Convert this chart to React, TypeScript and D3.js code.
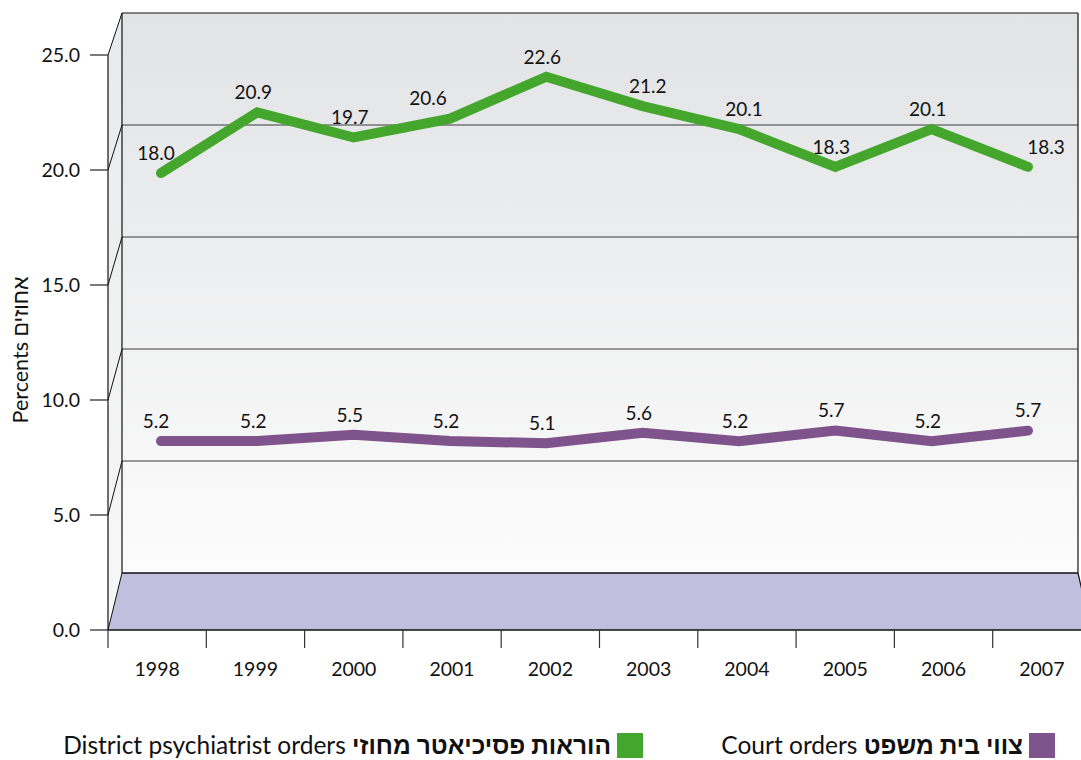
import React from "react";
import * as d3 from "d3";

const years = ["1998", "1999", "2000", "2001", "2002", "2003", "2004", "2005", "2006", "2007"];
const courtOrders = [5.2, 5.2, 5.5, 5.2, 5.1, 5.6, 5.2, 5.7, 5.2, 5.7];
const districtOrders = [18.0, 20.9, 19.7, 20.6, 22.6, 21.2, 20.1, 18.3, 20.1, 18.3];
const yTicks = [0, 5, 10, 15, 20, 25];
const seriesEnglish = ["Court orders", "District psychiatrist orders"];
const seriesHebrew = ["צווי בית משפט", "הוראות פסיכיאטר מחוזי"];
const seriesColors = ["#7f548c", "#44a62c"];
const yTitleEnglish = "Percents";
const yTitleHebrew = "אחוזים";

const FONT = "Lato, 'Liberation Sans', 'DejaVu Sans', sans-serif";

export default function App() {
  const W = 1081, H = 760;
  const frontLeft = 108, frontRight = 1091, frontBottom = 630, frontTop = 55;
  const backLeft = 122, backRight = 1078, backBottom = 573, backTop = 13;

  const yFront = d3.scaleLinear().domain([0, 25]).range([frontBottom, frontTop]);
  const yBack = d3.scaleLinear().domain([0, 25]).range([backBottom, backTop]);
  const yMid = d3.scaleLinear().domain([0, 25]).range([550, 550 - 25 * 20.94]);
  const xFront = d3.scaleBand().domain(years).range([frontLeft, frontRight]);
  const xMid = d3.scalePoint().domain(years).range([161, 1028]);

  const line = d3.line<number>()
    .x((_, i) => xMid(years[i])!)
    .y((d) => yMid(d));

  const series = [courtOrders, districtOrders];

  const labelDx = (vals: number[], i: number) => {
    const sL = i > 0 ? vals[i] - vals[i - 1] : null;
    const sR = i < vals.length - 1 ? vals[i + 1] - vals[i] : null;
    if (sL === null) return -5;
    if (sR === null) return sL < -0.5 ? 18 : 0;
    if (sL > 0.3 && sR > 0.3) return -22;
    if (sL < -0.3 && sR < -0.3) return 5;
    return -4;
  };

  return (
    <svg width={W} height={H} style={{ position: "absolute", left: 0, top: 0, display: "block", background: "#fff" }}
      fontFamily={FONT}>
      <defs>
        <linearGradient id="wallGrad" x1="0" y1="0" x2="0" y2="1">
          <stop offset="0" stopColor="#e2e3e5" />
          <stop offset="1" stopColor="#fcfcfc" />
        </linearGradient>
        <linearGradient id="sideGrad" x1="0" y1="0" x2="0" y2="1">
          <stop offset="0" stopColor="#e8e9ea" />
          <stop offset="1" stopColor="#f8f8f8" />
        </linearGradient>
      </defs>

      <rect x={backLeft} y={backTop} width={backRight - backLeft} height={backBottom - backTop} fill="url(#wallGrad)" />
      <polygon points={`${frontLeft},${frontBottom} ${frontLeft},${frontTop} ${backLeft},${backTop} ${backLeft},${backBottom}`}
        fill="url(#sideGrad)" />
      <polygon points={`${frontLeft},${frontBottom} ${backLeft},${backBottom} ${backRight},${backBottom} ${frontRight},${frontBottom}`}
        fill="#c2bedd" />

      {yTicks.map((t) => (
        <g key={t}>
          {t > 0 && t < 25 && (
            <line x1={backLeft} x2={backRight} y1={yBack(t)} y2={yBack(t)} stroke="#3a3a3a" strokeWidth={1.1} />
          )}
          <line x1={frontLeft} y1={yFront(t)} x2={backLeft} y2={yBack(t)} stroke="#111" strokeWidth={1} />
        </g>
      ))}
      <line x1={backLeft} x2={backRight} y1={backTop} y2={backTop} stroke="#111" strokeWidth={1.2} />
      <line x1={backLeft} x2={backLeft} y1={backTop} y2={backBottom} stroke="#111" strokeWidth={1.2} />
      <line x1={backRight} x2={backRight} y1={backTop} y2={backBottom} stroke="#111" strokeWidth={1.2} />
      <line x1={backLeft} x2={backRight} y1={backBottom} y2={backBottom} stroke="#111" strokeWidth={1.5} />
      <line x1={backRight} y1={backBottom} x2={frontRight} y2={frontBottom} stroke="#111" strokeWidth={1.2} />

      <line x1={frontLeft} x2={frontLeft} y1={frontTop} y2={frontBottom} stroke="#111" strokeWidth={1.2} />
      <line x1={frontLeft} x2={frontRight} y1={frontBottom} y2={frontBottom} stroke="#111" strokeWidth={1.5} />

      {yTicks.map((t) => (
        <g key={"yt" + t}>
          <line x1={90} x2={frontLeft} y1={yFront(t)} y2={yFront(t)} stroke="#222" strokeWidth={1.2} />
          <text x={80} y={yFront(t)} dy="0.36em" textAnchor="end" fontSize={19.5} fill="#111">
            {d3.format(".1f")(t)}
          </text>
        </g>
      ))}

      {years.map((y) => (
        <g key={"xt" + y}>
          <line x1={xFront(y)!} x2={xFront(y)!} y1={frontBottom} y2={648} stroke="#333" strokeWidth={1.2} />
          <text x={xFront(y)! + xFront.bandwidth() / 2} y={676} textAnchor="middle" fontSize={19.5} fill="#111">
            {y}
          </text>
        </g>
      ))}

      <text transform={`translate(28,350) rotate(-90)`} textAnchor="middle" fontSize={21.5} fill="#111" direction="ltr">
        {yTitleEnglish + " " + yTitleHebrew}
      </text>

      {series.map((vals, s) => (
        <path key={"l" + s} d={line(vals)!} fill="none" stroke={seriesColors[s]} strokeWidth={10}
          strokeLinecap="round" strokeLinejoin="miter" />
      ))}

      {series.map((vals, s) =>
        vals.map((v, i) => (
          <text key={`dl${s}-${i}`} x={xMid(years[i])! + labelDx(vals, i)} y={yMid(v) - 20} dy="0.36em"
            textAnchor="middle" fontSize={19} fill="#111">
            {d3.format(".1f")(v)}
          </text>
        ))
      )}

      {[0, 1].map((s) => {
        const sqX = s === 0 ? 1029 : 617;
        return (
          <g key={"lg" + s}>
            <rect x={sqX} y={733} width={26} height={25} fill={seriesColors[s]} />
            <text x={sqX - 6} y={754} textAnchor="end" fontSize={24.5} fill="#111" direction="ltr">
              <tspan>{seriesEnglish[s] + " "}</tspan>
              <tspan fontWeight="bold">{seriesHebrew[s]}</tspan>
            </text>
          </g>
        );
      })}
    </svg>
  );
}
